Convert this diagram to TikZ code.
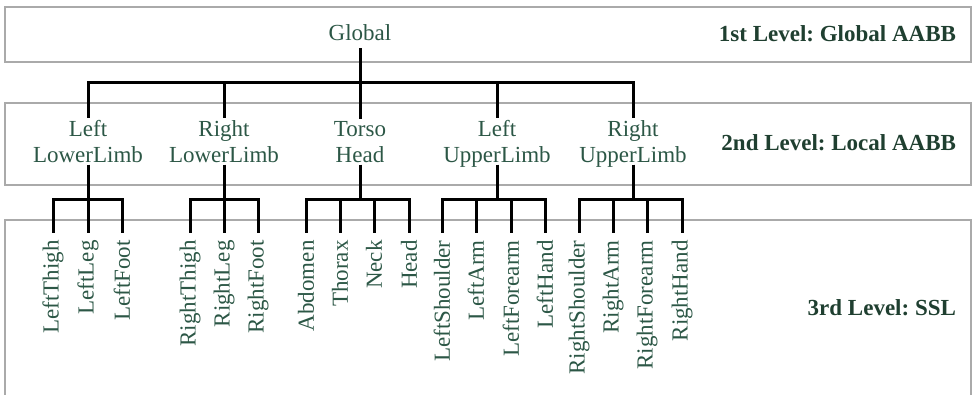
\documentclass[tikz,border=0pt]{standalone}
\usepackage{fontspec}
\setmainfont{Liberation Serif}
\usetikzlibrary{positioning}
\definecolor{hbtext}{HTML}{2C5746}
\definecolor{hbbold}{HTML}{1F3F30}
\definecolor{hbband}{HTML}{AAAAAA}
\frenchspacing

\begin{document}
\begin{tikzpicture}[
  x=0.5pt, y=-0.5pt,
  band/.style={draw=hbband, line width=0.6pt},
  root/.style={font=\fontsize{11.5}{13.2}\selectfont, text=hbtext, inner sep=3.5pt, text depth=0pt},
  part/.style={font=\fontsize{11.5}{13.2}\selectfont, text=hbtext, align=center,
               inner xsep=2pt, inner ysep=1pt, text depth=0pt},
  leaf/.style={font=\fontsize{11.5}{13.2}\selectfont, text=hbtext, rotate=90, anchor=east,
               inner sep=3.5pt},
  lvl/.style={font=\fontsize{11.5}{13.2}\selectfont\bfseries, text=hbbold, anchor=base east},
  link/.style={draw=black, line width=1.5pt},
]
\useasboundingbox (0,0) rectangle (973,395);

%% ---- Level bands ----
\draw[band] (5,7) rectangle (971,62);
\draw[band] (5,103) rectangle (971,185);
\draw[band] (5,395) -- (5,220) -- (971,220) -- (971,395);

%% ---- Level 1 ----
\node[root, anchor=base] (gl) at (360,41) {Global};

%% ---- Level 2 ----
\node[part, anchor=south] (llo) at (88,165)  {Left\\LowerLimb};
\node[part, anchor=south] (rlo) at (224,165) {Right\\LowerLimb};
\node[part, anchor=south] (trs) at (360,165) {Torso\\Head};
\node[part, anchor=south] (lup) at (497,165) {Left\\UpperLimb};
\node[part, anchor=south] (rup) at (633,165) {Right\\UpperLimb};

\draw[link] (gl.south) -- ++(0,34) -| (llo.north);
\draw[link] (gl.south) -- ++(0,34) -| (rlo.north);
\draw[link] (gl.south) -- (trs.north);
\draw[link] (gl.south) -- ++(0,34) -| (lup.north);
\draw[link] (gl.south) -- ++(0,34) -| (rup.north);

%% ---- Level 3: left lower limb ----
\node[leaf] (lth) at (53,233)  {LeftThigh};
\node[leaf] (llg) at (88,233)  {LeftLeg};
\node[leaf] (lft) at (122,233) {LeftFoot};

\draw[link] (llo.south) -- ++(0,35) -| (lth.east);
\draw[link] (llo.south) -- (llg.east);
\draw[link] (llo.south) -- ++(0,35) -| (lft.east);

%% ---- Level 3: right lower limb ----
\node[leaf] (rth) at (190,233) {RightThigh};
\node[leaf] (rlg) at (224,233) {RightLeg};
\node[leaf] (rft) at (258,233) {RightFoot};

\draw[link] (rlo.south) -- ++(0,35) -| (rth.east);
\draw[link] (rlo.south) -- (rlg.east);
\draw[link] (rlo.south) -- ++(0,35) -| (rft.east);

%% ---- Level 3: torso and head ----
\node[leaf] (abd) at (306,233) {Abdomen};
\node[leaf] (thx) at (340,233) {Thorax};
\node[leaf] (nck) at (374,233) {Neck};
\node[leaf] (hed) at (409,233) {Head};

\draw[link] (trs.south) -- ++(0,35) -| (abd.east);
\draw[link] (trs.south) -- ++(0,35) -| (thx.east);
\draw[link] (trs.south) -- ++(0,35) -| (nck.east);
\draw[link] (trs.south) -- ++(0,35) -| (hed.east);

%% ---- Level 3: left upper limb ----
\node[leaf] (lsh) at (442,233) {LeftShoulder};
\node[leaf] (lar) at (476,233) {LeftArm};
\node[leaf] (lfa) at (511,233) {LeftForearm};
\node[leaf] (lhd) at (545,233) {LeftHand};

\draw[link] (lup.south) -- ++(0,35) -| (lsh.east);
\draw[link] (lup.south) -- ++(0,35) -| (lar.east);
\draw[link] (lup.south) -- ++(0,35) -| (lfa.east);
\draw[link] (lup.south) -- ++(0,35) -| (lhd.east);

%% ---- Level 3: right upper limb ----
\node[leaf] (rsh) at (579,233) {RightShoulder};
\node[leaf] (rar) at (613,233) {RightArm};
\node[leaf] (rfa) at (647,233) {RightForearm};
\node[leaf] (rhd) at (682,233) {RightHand};

\draw[link] (rup.south) -- ++(0,35) -| (rsh.east);
\draw[link] (rup.south) -- ++(0,35) -| (rar.east);
\draw[link] (rup.south) -- ++(0,35) -| (rfa.east);
\draw[link] (rup.south) -- ++(0,35) -| (rhd.east);

%% ---- Level captions ----
\node[lvl] (cap1) at (963,42)  {1st Level: Global AABB};
\node[lvl] (cap2) at (963,151) {2nd Level: Local AABB};
\node[lvl] (cap3) at (963,315) {3rd Level: SSL};

\end{tikzpicture}
\end{document}
